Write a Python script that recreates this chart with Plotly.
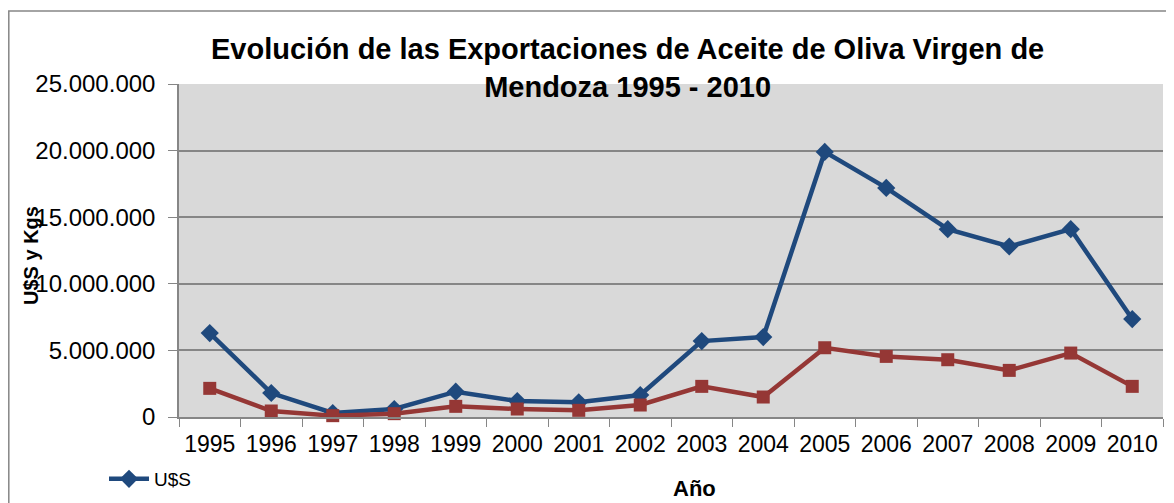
import plotly.graph_objects as go

years = ["1995", "1996", "1997", "1998", "1999", "2000", "2001", "2002",
         "2003", "2004", "2005", "2006", "2007", "2008", "2009", "2010"]
usd = [6300000, 1800000, 300000, 600000, 1900000, 1200000, 1100000, 1650000,
       5700000, 6000000, 19900000, 17200000, 14100000, 12800000, 14100000, 7350000]
kgs = [2150000, 450000, 100000, 250000, 800000, 600000, 500000, 900000,
       2300000, 1500000, 5200000, 4550000, 4300000, 3500000, 4800000, 2300000]

# The page body has an 8px margin: figure is sized so it fits the window.
OFF = 8
W, H = 1174 - OFF, 503 - OFF
L, R, T, B = 179 - OFF, 11, 84 - OFF, 86
pw, ph = W - L - R, H - T - B

def px_x(sx):
    return (sx - OFF - L) / pw

def px_y(sy):
    return (H - B - (sy - OFF)) / ph

fig = go.Figure()
fig.add_trace(go.Scatter(
    x=years, y=usd, name="U$S", mode="lines+markers",
    line=dict(color="#1F497D", width=4.5),
    marker=dict(symbol="diamond", size=14, color="#1F497D"),
    cliponaxis=False))
fig.add_trace(go.Scatter(
    x=years, y=kgs, name="Kgs", mode="lines+markers",
    line=dict(color="#953735", width=4.5),
    marker=dict(symbol="square", size=13, color="#953735"),
    cliponaxis=False, showlegend=False))

font = "Liberation Sans, Arial, sans-serif"

fig.update_layout(
    width=W, height=H,
    margin=dict(l=L, r=R, t=T, b=B, autoexpand=False),
    paper_bgcolor="white", plot_bgcolor="#D9D9D9",
    separators=",.",
    font=dict(family=font, color="black"),
    showlegend=True,
    legend=dict(xref="container", yref="container",
                x=(104 - OFF) / W, y=(H - (479 - OFF)) / H,
                xanchor="left", yanchor="middle", itemwidth=40,
                font=dict(size=19), bgcolor="rgba(0,0,0,0)"),
    xaxis=dict(type="category", range=[-0.5, 15.5], tickson="boundaries",
               ticks="outside", ticklen=8, tickcolor="#868686",
               showline=True, linecolor="#868686", linewidth=1.5,
               showgrid=False, tickfont=dict(size=23), ticklabelstandoff=6,
               automargin=False),
    yaxis=dict(range=[0, 25000000], dtick=5000000, tickformat=",d",
               ticks="outside", ticklen=9, tickcolor="#868686",
               showline=True, linecolor="#868686", linewidth=1.5,
               showgrid=True, gridcolor="#868686", gridwidth=2,
               zeroline=False, tickfont=dict(size=24), ticklabelstandoff=8,
               automargin=False),
    shapes=[dict(type="rect", xref="paper", yref="paper",
                 x0=px_x(8.8), x1=px_x(1190), y0=px_y(520), y1=px_y(11),
                 line=dict(color="#868686", width=1.5), fillcolor="rgba(0,0,0,0)",
                 layer="below")],
    annotations=[
        dict(text="<b>Evolución de las Exportaciones de Aceite de Oliva Virgen de<br>Mendoza 1995 - 2010</b>",
             xref="paper", yref="paper", x=px_x(627), y=px_y(68),
             xanchor="center", yanchor="middle", showarrow=False,
             font=dict(size=29, family=font)),
        dict(text="<b>Año</b>", xref="paper", yref="paper",
             x=px_x(694), y=px_y(488), xanchor="center", yanchor="middle",
             showarrow=False, font=dict(size=22, family=font)),
        dict(text="<b>U$S y Kgs</b>", xref="paper", yref="paper",
             x=px_x(31), y=px_y(256), xanchor="center", yanchor="middle",
             textangle=-90, showarrow=False, font=dict(size=20, family=font)),
    ],
)

fig.write_html("out.html")
